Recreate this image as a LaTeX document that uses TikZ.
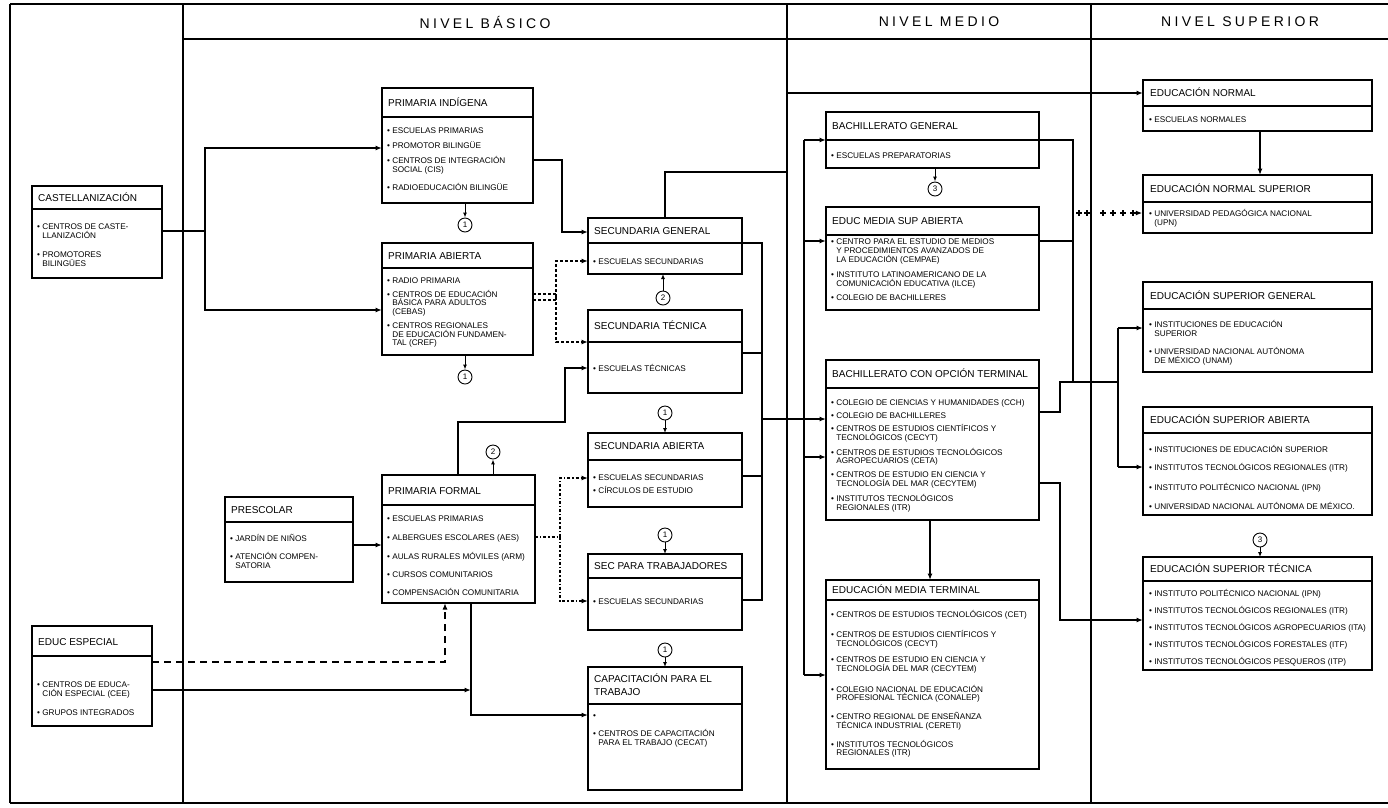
\documentclass[tikz,border=0pt]{standalone}
\usepackage{fontspec}
\setmainfont{Liberation Sans}
\usetikzlibrary{arrows.meta,fit,decorations.markings}
\newcommand\bu{\textbullet\ }
\newcommand\indt{\hphantom{\textbullet\ }}
\newcommand\firstl{\rule{0pt}{7.6pt}}
\newcommand\plusm{\draw[line width=1.1pt] (-2.8pt,0pt) -- (2.8pt,0pt) (0pt,-2.8pt) -- (0pt,2.8pt);}
\newcommand\ebox[6]{\node[frame, fit={(#2,#3) (#4,#5)}] (#1) {};\draw[sepl] (#2,#6) -- (#4,#6);}
\newcommand\etitle[4]{\node[ttl] (#1-t) at (#2,#3) {#4};}
\newcommand\eitems[4]{\node[itm] (#1-i) at (#2,#3) {\firstl#4};}
\begin{document}
\begin{tikzpicture}[x=1pt,y=-1pt,
  frame/.style={draw, line width=1.3pt, inner sep=0pt, outer sep=0pt},
  sepl/.style={line width=1.1pt},
  ttl/.style={anchor=west, inner sep=0pt, font=\fontsize{10}{11}\selectfont, text height=7.2pt, text depth=0pt},
  ttltwo/.style={anchor=north west, inner sep=0pt, align=left, font=\fontsize{10}{13}\selectfont},
  itm/.style={anchor=north west, inner sep=0pt, align=left, font=\fontsize{8.2}{8.6}\selectfont},
  conn/.style={line width=1.3pt},
  arr/.style={conn, -{Latex[length=6.5pt,width=5pt]}},
  sarr/.style={line width=1pt, -{Latex[length=5pt,width=4pt]}},
  circ/.style={draw, circle, line width=0.9pt, minimum size=14pt, inner sep=0pt, font=\fontsize{8}{8}\selectfont},
  hdr/.style={inner sep=0pt, font=\fontsize{14}{16}\selectfont\addfontfeatures{LetterSpace=24}},
  plusline/.style={decoration={markings,
     mark=at position 6pt with {\plusm},
     mark=at position 14pt with {\plusm},
     mark=at position 30pt with {\plusm},
     mark=at position 40pt with {\plusm},
     mark=at position 50pt with {\plusm},
     mark=at position 60pt with {\plusm},
     mark=at position 0.99 with {\arrow[line width=1.3pt]{Latex[length=6.5pt,width=5pt]}}}, decorate}
]
\useasboundingbox (0,0) rectangle (1388,807);
\fill[white] (0,0) rectangle (1388,807);

% ---------- table frame ----------
\draw[conn] (10,4) -- (1388,4);
\draw[conn] (183,39) -- (1388,39);
\draw[conn] (10,4) -- (10,803);
\draw[conn] (183,4) -- (183,803);
\draw[conn] (787,4) -- (787,803);
\draw[conn] (1091,4) -- (1091,803);
\draw[conn] (10,803) -- (1388,803);
\node[hdr] (h1) at (485,22) {NIVEL BÁSICO};
\node[hdr] (h2) at (939,22) {NIVEL MEDIO};
\node[hdr] (h3) at (1240,22) {NIVEL SUPERIOR};

% ---------- left column ----------
\ebox{cast}{32}{186}{162}{278}{209}
\etitle{cast}{38}{198}{CASTELLANIZACIÓN}
\eitems{cast}{37}{222}{\bu CENTROS DE CASTE-\\\indt LLANIZACIÓN\\[10.4pt]\bu PROMOTORES\\\indt BILINGÜES}

\ebox{esp}{32}{626}{152}{726}{656}
\etitle{esp}{38}{642}{EDUC ESPECIAL}
\eitems{esp}{37}{680}{\bu CENTROS DE EDUCA-\\\indt CIÓN ESPECIAL (CEE)\\[10.4pt]\bu GRUPOS INTEGRADOS}

% ---------- nivel basico ----------
\ebox{pind}{382}{88}{533}{203}{117}
\etitle{pind}{388}{103}{PRIMARIA INDÍGENA}
\eitems{pind}{387}{126}{\bu ESCUELAS PRIMARIAS\\[6.4pt]\bu PROMOTOR BILINGÜE\\[6.4pt]\bu CENTROS DE INTEGRACIÓN\\\indt SOCIAL (CIS)\\[8.4pt]\bu RADIOEDUCACIÓN BILINGÜE}

\ebox{pab}{382}{243}{533}{355}{268}
\etitle{pab}{388}{256}{PRIMARIA ABIERTA}
\eitems{pab}{387}{276}{\bu RADIO PRIMARIA\\[4.6pt]\bu CENTROS DE EDUCACIÓN\\\indt BÁSICA PARA ADULTOS\\\indt (CEBAS)\\[5.6pt]\bu CENTROS REGIONALES\\\indt DE EDUCACIÓN FUNDAMEN-\\\indt TAL (CREF)}

\ebox{pf}{382}{475}{535}{603}{505}
\etitle{pf}{388}{491}{PRIMARIA FORMAL}
\eitems{pf}{387}{514}{\bu ESCUELAS PRIMARIAS\\[9.8pt]\bu ALBERGUES ESCOLARES (AES)\\[9.8pt]\bu AULAS RURALES MÓVILES (ARM)\\[9.4pt]\bu CURSOS COMUNITARIOS\\[9.4pt]\bu COMPENSACIÓN COMUNITARIA}

\ebox{pre}{225}{497}{353}{582}{522}
\etitle{pre}{231}{510}{PRESCOLAR}
\eitems{pre}{230}{534}{\bu JARDÍN DE NIÑOS\\[9.4pt]\bu ATENCIÓN COMPEN-\\\indt SATORIA}

\ebox{sg}{588}{218}{742}{274}{243}
\etitle{sg}{594}{231}{SECUNDARIA GENERAL}
\eitems{sg}{593}{257}{\bu ESCUELAS SECUNDARIAS}

\ebox{st}{588}{310}{742}{393}{342}
\etitle{st}{594}{326}{SECUNDARIA TÉCNICA}
\eitems{st}{593}{364}{\bu ESCUELAS TÉCNICAS}

\ebox{sa}{588}{433}{742}{507}{460}
\etitle{sa}{594}{446}{SECUNDARIA ABIERTA}
\eitems{sa}{593}{473}{\bu ESCUELAS SECUNDARIAS\\[4pt]\bu CÍRCULOS DE ESTUDIO}

\ebox{stb}{588}{554}{742}{630}{578}
\etitle{stb}{594}{566}{SEC PARA TRABAJADORES}
\eitems{stb}{593}{597}{\bu ESCUELAS SECUNDARIAS}

\ebox{cap}{588}{667}{742}{790}{704}
\node[ttltwo] (cap-t) at (594,674) {\rule{0pt}{8.5pt}CAPACITACIÓN PARA EL\\TRABAJO};
\eitems{cap}{593}{711}{\bu\\[9.4pt]\bu CENTROS DE CAPACITACIÓN\\\indt PARA EL TRABAJO (CECAT)}

% ---------- nivel medio ----------
\ebox{bg}{826}{112}{1039}{168}{140}
\etitle{bg}{832}{126}{BACHILLERATO GENERAL}
\eitems{bg}{831}{151}{\bu ESCUELAS PREPARATORIAS}

\ebox{emsa}{826}{207}{1039}{310}{235}
\etitle{emsa}{832}{221}{EDUC MEDIA SUP ABIERTA}
\eitems{emsa}{831}{237}{\bu CENTRO PARA EL ESTUDIO DE MEDIOS\\\indt Y PROCEDIMIENTOS AVANZADOS DE\\\indt LA EDUCACIÓN (CEMPAE)\\[7pt]\bu INSTITUTO LATINOAMERICANO DE LA\\\indt COMUNICACIÓN EDUCATIVA (ILCE)\\[6pt]\bu COLEGIO DE BACHILLERES}

\ebox{bot}{826}{360}{1039}{520}{388}
\etitle{bot}{832}{374}{BACHILLERATO CON OPCIÓN TERMINAL}
\eitems{bot}{831}{398}{\bu COLEGIO DE CIENCIAS Y HUMANIDADES (CCH)\\[4.4pt]\bu COLEGIO DE BACHILLERES\\[4.4pt]\bu CENTROS DE ESTUDIOS CIENTÍFICOS Y\\\indt TECNOLÓGICOS (CECYT)\\[5pt]\bu CENTROS DE ESTUDIOS TECNOLÓGICOS\\\indt AGROPECUARIOS (CETA)\\[5pt]\bu CENTROS DE ESTUDIO EN CIENCIA Y\\\indt TECNOLOGÍA DEL MAR (CECYTEM)\\[5.6pt]\bu INSTITUTOS TECNOLÓGICOS\\\indt REGIONALES (ITR)}

\ebox{emt}{826}{580}{1039}{769}{600}
\etitle{emt}{832}{590}{EDUCACIÓN MEDIA TERMINAL}
\eitems{emt}{831}{610}{\bu CENTROS DE ESTUDIOS TECNOLÓGICOS (CET)\\[10pt]\bu CENTROS DE ESTUDIOS CIENTÍFICOS Y\\\indt TECNOLÓGICOS (CECYT)\\[8pt]\bu CENTROS DE ESTUDIO EN CIENCIA Y\\\indt TECNOLOGÍA DEL MAR (CECYTEM)\\[11pt]\bu COLEGIO NACIONAL DE EDUCACIÓN\\\indt PROFESIONAL TÉCNICA (CONALEP)\\[9pt]\bu CENTRO REGIONAL DE ENSEÑANZA\\\indt TÉCNICA INDUSTRIAL (CERETI)\\[9pt]\bu INSTITUTOS TECNOLÓGICOS\\\indt REGIONALES (ITR)}

% ---------- nivel superior ----------
\ebox{en}{1143}{80}{1372}{131}{106}
\etitle{en}{1150}{93}{EDUCACIÓN NORMAL}
\eitems{en}{1149}{115}{\bu ESCUELAS NORMALES}

\ebox{ens}{1143}{175}{1372}{233}{202}
\etitle{ens}{1150}{189}{EDUCACIÓN NORMAL SUPERIOR}
\eitems{ens}{1149}{209}{\bu UNIVERSIDAD PEDAGÓGICA NACIONAL\\\indt (UPN)}

\ebox{esg}{1143}{282}{1372}{372}{309}
\etitle{esg}{1150}{296}{EDUCACIÓN SUPERIOR GENERAL}
\eitems{esg}{1149}{320}{\bu INSTITUCIONES DE EDUCACIÓN\\\indt SUPERIOR\\[9.4pt]\bu UNIVERSIDAD NACIONAL AUTÓNOMA\\\indt DE MÉXICO (UNAM)}

\ebox{esa}{1143}{407}{1372}{515}{433}
\etitle{esa}{1150}{420}{EDUCACIÓN SUPERIOR ABIERTA}
\eitems{esa}{1149}{445}{\bu INSTITUCIONES DE EDUCACIÓN SUPERIOR\\[9.4pt]\bu INSTITUTOS TECNOLÓGICOS REGIONALES (ITR)\\[9.4pt]\bu INSTITUTO POLITÉCNICO NACIONAL (IPN)\\[9.4pt]\bu UNIVERSIDAD NACIONAL AUTÓNOMA DE MÉXICO.}

\ebox{est}{1143}{557}{1372}{670}{581}
\etitle{est}{1150}{569}{EDUCACIÓN SUPERIOR TÉCNICA}
\eitems{est}{1149}{589}{\bu INSTITUTO POLITÉCNICO NACIONAL (IPN)\\[6.4pt]\bu INSTITUTOS TECNOLÓGICOS REGIONALES (ITR)\\[7.4pt]\bu INSTITUTOS TECNOLÓGICOS AGROPECUARIOS (ITA)\\[7.4pt]\bu INSTITUTOS TECNOLÓGICOS FORESTALES (ITF)\\[7.4pt]\bu INSTITUTOS TECNOLÓGICOS PESQUEROS (ITP)}

% ---------- circles ----------
\node[circ] (c1a) at (465,225) {1};
\node[circ] (c1b) at (465,377) {1};
\node[circ] (c2a) at (663,298) {2};
\node[circ] (c1c) at (665,413) {1};
\node[circ] (c1d) at (665,535) {1};
\node[circ] (c1e) at (665,650) {1};
\node[circ] (c2b) at (493,452) {2};
\node[circ] (c3a) at (935,189) {3};
\node[circ] (c3b) at (1260,540) {3};

\draw[sarr] (pind.south -| c1a) -- (c1a.north);
\draw[sarr] (pab.south -| c1b) -- (c1b.north);
\draw[sarr] (c2a.north) -- (sg.south -| c2a);
\draw[sarr] (c1c.south) -- (sa.north -| c1c);
\draw[sarr] (c1d.south) -- (stb.north -| c1d);
\draw[sarr] (c1e.south) -- (cap.north -| c1e);
\draw[sarr] (pf.north -| c2b) -- (c2b.south);
\draw[sarr] (bg.south -| c3a) -- (c3a.north);
\draw[sarr] (c3b.south) -- (est.north -| c3b);

% ---------- connectors: basico ----------
\coordinate (j1) at (205,231);
\draw[conn] (cast.east |- j1) -- (j1);
\draw[arr] (j1) |- (pind.west |- 0,148);
\draw[arr] (j1) |- (pab.west |- 0,310);

\draw[arr] (pind.east |- 0,160) -- (562,160) |- (sg.west |- 0,232);

\coordinate (j2) at (556,297);
\draw[conn, dash pattern=on 3pt off 2pt] (pab.east |- 0,294) -- (556,294);
\draw[conn, dash pattern=on 3pt off 2pt] (pab.east |- 0,300) -- (556,300);
\draw[arr, dash pattern=on 3pt off 2pt] (j2) |- (sg.west |- 0,261);
\draw[arr, dash pattern=on 3pt off 2pt] (j2) |- (st.west |- 0,342);

\draw[arr] (pf.north -| 458,0) |- (565,422) |- (st.west |- 0,368);
\draw[arr] (pre.east |- 0,545) -- (pf.west |- 0,545);

\coordinate (j3) at (560,537);
\draw[conn, dash dot] (pf.east |- j3) -- (j3);
\draw[arr, dash dot] (j3) |- (sa.west |- 0,478);
\draw[arr, dash dot] (j3) |- (stb.west |- 0,601);

\draw[arr, dash pattern=on 7pt off 5pt] (esp.east |- 0,662) -| (pf.south -| 445,0);
\coordinate (j4) at (471,690);
\draw[arr] (esp.east |- j4) -- (j4);
\draw[arr] (pf.south -| 471,0) |- (cap.west |- 0,715);

\draw[conn] (sg.east |- 0,243) -- (762,243) -- (762,600) -- (stb.east |- 0,600);
\draw[conn] (st.east |- 0,353) -- (762,353);
\draw[conn] (sa.east |- 0,476) -- (762,476);
\coordinate (j5) at (762,419);
\draw[arr] (j5) -- (bot.west |- j5);

\draw[arr] (sg.north -| 665,0) |- (787,172) |- (en.west |- 0,93);

% ---------- connectors: medio ----------
\coordinate (j6) at (804,140);
\draw[conn] (j6) -- (804,675);
\draw[arr] (j6) -- (bg.west |- j6);
\draw[arr] (804,241) -- (emsa.west |- 0,241);
\draw[arr] (804,457) -- (bot.west |- 0,457);
\draw[arr] (804,675) -- (emt.west |- 0,675);
\draw[arr] (bot.south -| 930,0) -- (emt.north -| 930,0);

\draw[conn] (bg.east |- 0,140) -- (1073,140) -- (1073,382);
\draw[conn] (emsa.east |- 0,241) -- (1073,241);
\path[plusline] (1073,213) -- (ens.west |- 0,213);
\draw[conn] (bot.east |- 0,412) -- (1060,412) -- (1060,382) -- (1118,382);
\draw[conn] (1118,328) -- (1118,467);
\draw[arr] (1118,328) -- (esg.west |- 0,328);
\draw[arr] (1118,467) -- (esa.west |- 0,467);
\draw[arr] (bot.east |- 0,483) -- (1060,483) |- (est.west |- 0,620);

% ---------- connectors: superior ----------
\draw[arr] (en.south -| 1260,0) -- (ens.north -| 1260,0);
\end{tikzpicture}
\end{document}
